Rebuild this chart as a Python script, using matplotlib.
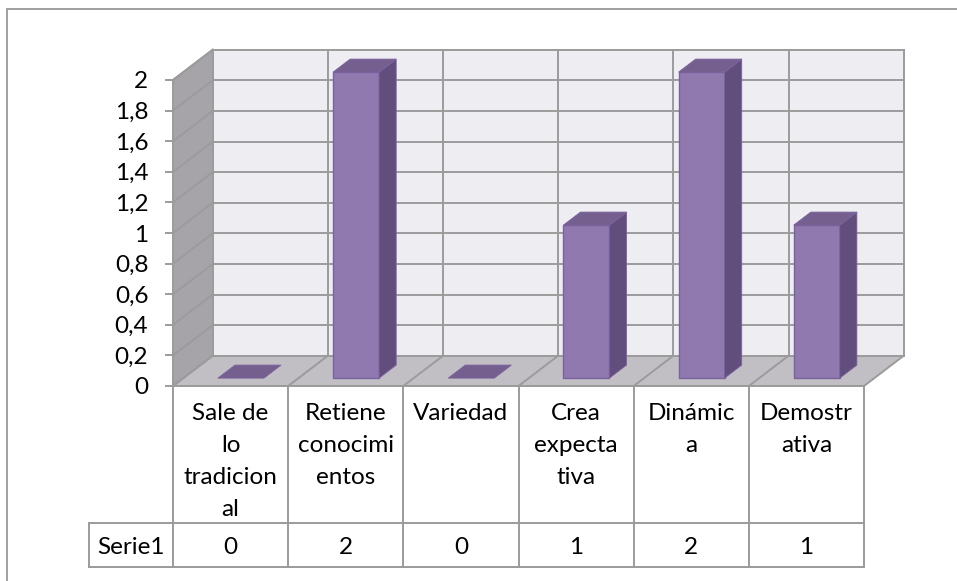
import matplotlib
matplotlib.use('Agg')
import matplotlib.pyplot as plt
from matplotlib.patches import Polygon, Rectangle
import numpy as np

plt.rcParams['font.family'] = ['Lato', 'DejaVu Sans']

# Data
categorias = ['Sale de\nlo\ntradicion\nal', 'Retiene\nconocimi\nentos', 'Variedad',
              'Crea\nexpecta\ntiva', 'Dinámic\na', 'Demostr\nativa']
serie_nombre = 'Serie1'
valores = [0, 2, 0, 1, 2, 1]
yticks = np.round(np.arange(0, 2.01, 0.2), 1)

# Colours
c_back = '#ededf2'
c_side = '#a6a4a8'
c_floor = '#c1bfc3'
c_grid = '#9b9b9b'
c_front = '#8f79ae'
c_bside = '#624e7c'
c_top = '#755f8f'
c_edge = '#7a62a0'
FS = 17.5

W, H, DPI = 957, 581, 100
fig = plt.figure(figsize=(W / DPI, H / DPI), dpi=DPI)

# front plane of the plot: x 0..6 (categories), y 0..2
x0, x1, y0, y1 = 173, 864, 386, 80
ax = fig.add_axes([x0 / W, 1 - y0 / H, (x1 - x0) / W, (y0 - y1) / H])
n = len(valores)
ax.set_xlim(0, n)
ax.set_ylim(0, 2)
ax.patch.set_visible(False)
for s in ['top', 'right', 'bottom']:
    ax.spines[s].set_visible(False)
ax.spines['left'].set_color(c_grid)
ax.spines['left'].set_linewidth(1.4)
ax.spines['left'].set_zorder(6)
ax.set_xticks([])
ax.set_yticks(yticks)
ax.set_yticklabels([('%g' % t).replace('.', ',') for t in yticks], fontsize=FS)
ax.tick_params(axis='y', length=5.8, width=1.4, color=c_grid, pad=12)

# depth of the 3D box in data units
DX = 0.345
DY = 0.198
ymax = 2

def poly(pts, fc, ec='none', lw=0, z=1):
    ax.add_patch(Polygon(pts, closed=True, facecolor=fc, edgecolor=ec,
                         linewidth=lw, zorder=z, clip_on=False))

def line(xs, ys, z=3, c=c_grid, lw=1.4):
    ax.plot(xs, ys, color=c, lw=lw, zorder=z, clip_on=False, solid_capstyle='projecting')

# walls and floor
poly([(DX, DY), (n + DX, DY), (n + DX, ymax + DY), (DX, ymax + DY)], c_back)
poly([(0, 0), (DX, DY), (DX, ymax + DY), (0, ymax)], c_side)
poly([(0, 0), (n, 0), (n + DX, DY), (DX, DY)], c_floor)

# gridlines on the back wall and the side wall
for t in yticks:
    line([DX, n + DX], [t + DY, t + DY])
    line([0, DX], [t, t + DY])
for i in range(n + 1):
    line([i + DX, i + DX], [DY, ymax + DY])
    line([i, i + DX], [0, DY])
line([0, n], [0, 0])
line([0, DX], [ymax, ymax + DY])

# 3D columns
d0, d1 = 0.26, 0.69
bw = 0.4
for i, v in enumerate(valores):
    bx0 = i + 0.5 - bw / 2 + d0 * DX
    bx1 = bx0 + bw
    by = d0 * DY
    ddx, ddy = (d1 - d0) * DX, (d1 - d0) * DY
    if v > 0:
        poly([(bx0, by), (bx1, by), (bx1, by + v), (bx0, by + v)], c_front, c_edge, 1.0, 4)
        poly([(bx1, by), (bx1 + ddx, by + ddy), (bx1 + ddx, by + v + ddy), (bx1, by + v)],
             c_bside, c_edge, 0.6, 4)
    poly([(bx0, by + v), (bx1, by + v), (bx1 + ddx, by + v + ddy), (bx0 + ddx, by + v + ddy)],
         c_top, c_edge, 0.6, 4)

# data table under the plot
def vy(py):
    return (y0 - py) / (y0 - y1) * ymax

def vx(px):
    return (px - x0) / (x1 - x0) * n

t_lab = vy(523)
t_bot = vy(567)
t_left = vx(89)
for i in range(n + 1):
    line([i, i], [0, t_bot], z=3)
line([t_left, t_left], [t_lab, t_bot])
line([t_left, n], [t_lab, t_lab])
line([t_left, n], [t_bot, t_bot])

step = vy(386) - vy(418)
for i, lab in enumerate(categorias):
    for k, part in enumerate(lab.split('\n')):
        ax.text(i + 0.5, vy(414) - k * step, part, ha='center', va='center',
                fontsize=FS, clip_on=False)
    ax.text(i + 0.5, vy(548), str(valores[i]), ha='center', va='center',
            fontsize=FS, clip_on=False)
ax.text((t_left + 0) / 2, vy(548), serie_nombre, ha='center', va='center',
        fontsize=FS, clip_on=False)

# chart area border
fig.patches.append(Rectangle((7 / W, -0.1), 1.2, 1.1 - 9 / H, transform=fig.transFigure,
                             facecolor='none', edgecolor='#a0a0a0', linewidth=1.4))

fig.savefig('out.png', dpi=DPI)
